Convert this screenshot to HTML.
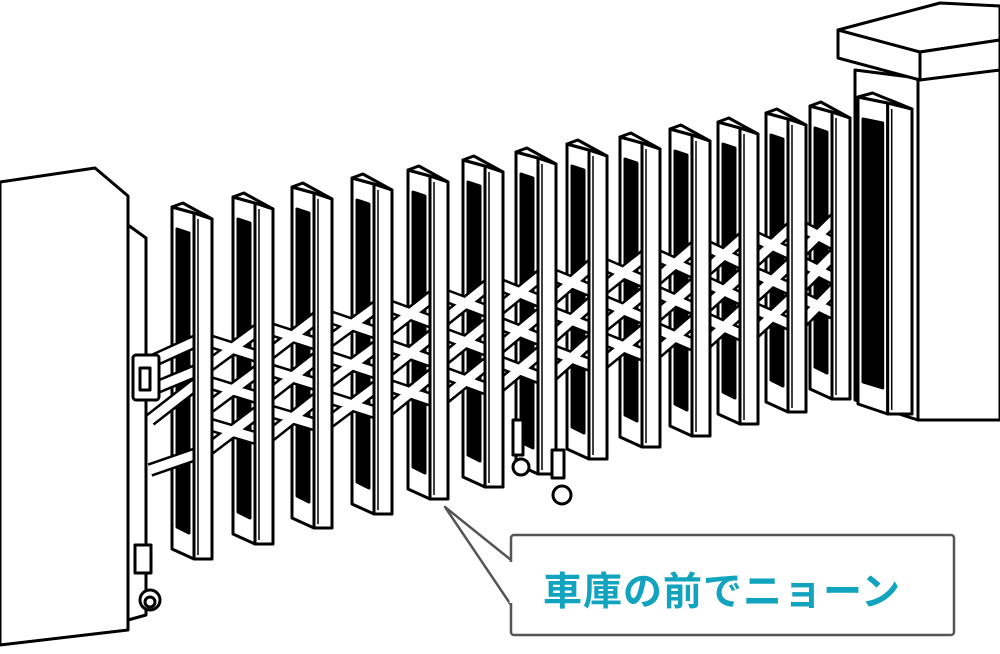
<!DOCTYPE html>
<html><head><meta charset="utf-8"><style>
html,body{margin:0;padding:0;background:#fff;}
#w{position:relative;width:1000px;height:654px;overflow:hidden;}
svg{position:absolute;left:0;top:0;}
.t{position:absolute;left:512px;top:561px;width:420px;text-align:center;font:bold 39px "Liberation Sans","Noto Sans CJK JP",sans-serif;color:#12a4bf;letter-spacing:1px;}
</style></head><body><div id="w">
<svg id="s" width="1000" height="654" viewBox="0 0 1000 654" stroke="#000" stroke-width="3" stroke-linejoin="round" fill="#fff">
<polygon points="855,70 918,78 1000,70 1000,420 918,420 855,400"/>
<polygon points="918,78 1000,70 1000,420 918,420" fill="#fff"/>
<polygon points="838,30 940,3 1000,6 1000,40 920,52 838,52"/>
<polygon points="838,30 920,52 920,80 838,58"/>
<polygon points="920,52 1000,40 1000,70 920,80"/>
<polygon points="0,182 95,168 128,196 128,630 0,645"/>
<polygon points="128,225 146,238 146,615 128,620"/>
<g id="g"></g>
<rect x="133" y="355" width="26" height="45" rx="3"/>
<rect x="140" y="368" width="10" height="22" fill="#fff"/>
<rect x="135" y="545" width="16" height="28"/>
<circle cx="150" cy="600" r="10"/>
<circle cx="150" cy="602" r="5"/>
<rect x="513" y="420" width="10" height="35"/>
<circle cx="521" cy="467" r="8"/>
<rect x="552" y="450" width="12" height="28"/>
<circle cx="562" cy="495" r="9"/>
<path d="M511,560 L445,507 L511,605" stroke="#555" stroke-width="2.5" fill="#fff"/>
<rect x="511" y="535" width="443" height="100" rx="3" stroke="#555" stroke-width="2.5" fill="#fff"/>
<line x1="511" y1="562" x2="511" y2="603" stroke="#fff" stroke-width="3"/>
</svg>
<div class="t">車庫の前でニョーン</div>
</div>
<script>
var P=[[172,207,555],[233,197,540],[292,187,524],[352,178,510],[408,170,495],[463,160,483],[516,152,470],[567,144,455],[620,137,443],[670,129,432],[718,122,420],[766,113,408],[810,106,395],[858,97,410]];
var g=document.getElementById('g'),out='';
function mid(i,f){var p=P[i];return p[1]+f*(p[2]-p[1]);}
for(var i=0;i<P.length;i++){var x=P[i][0],t=P[i][1],b=P[i][2],w=i==13?54:40,fw=w*0.45;
out+='<polygon points="'+x+','+t+' '+(x+w-fw)+','+(t+6)+' '+(x+w-fw)+','+(b+4)+' '+x+','+(b-6)+'"/>';
out+='<polygon points="'+(x+5)+','+(t+22)+' '+(x+w-fw-5)+','+(t+26)+' '+(x+w-fw-5)+','+(b-22)+' '+(x+5)+','+(b-28)+'" fill="#000"/>';}
var st='';
for(var i=0;i<12;i++){for(var k=0;k<3;k++){var f=0.38+k*0.12,d=30;
var xa=P[i][0]+32,xb=P[i+1][0]+28;
st+='M'+xa+','+mid(i,f)+'L'+xb+','+(mid(i+1,f)+d)+'M'+xa+','+(mid(i,f)+d)+'L'+xb+','+mid(i+1,f);}}
st+='M150,362L200,'+mid(0,0.38)+'M150,390L200,'+(mid(0,0.38)+30)+'M150,420L200,'+mid(0,0.50)+'M150,470L200,'+(mid(0,0.62)+30);
out+='<path d="'+st+'" stroke="#000" stroke-width="14" fill="none"/>';
out+='<path d="'+st+'" stroke="#fff" stroke-width="9" fill="none"/>';
for(var i=0;i<P.length;i++){var x=P[i][0],t=P[i][1],b=P[i][2],w=i==13?54:40,fw=w*0.45,xf=x+w-fw;
out+='<polygon points="'+xf+','+(t+6)+' '+(x+w)+','+(t+12)+' '+(x+w)+','+(b+4)+' '+xf+','+(b+4)+'"/>';
out+='<polygon points="'+x+','+t+' '+(x+fw*0.6)+','+(t-4)+' '+(x+w)+','+(t+12)+' '+xf+','+(t+6)+'"/>';
out+='<line x1="'+(xf+4)+'" y1="'+(t+12)+'" x2="'+(xf+4)+'" y2="'+(b)+'" stroke-width="1.5"/>';}
g.innerHTML=out;
</script>
</body></html>
